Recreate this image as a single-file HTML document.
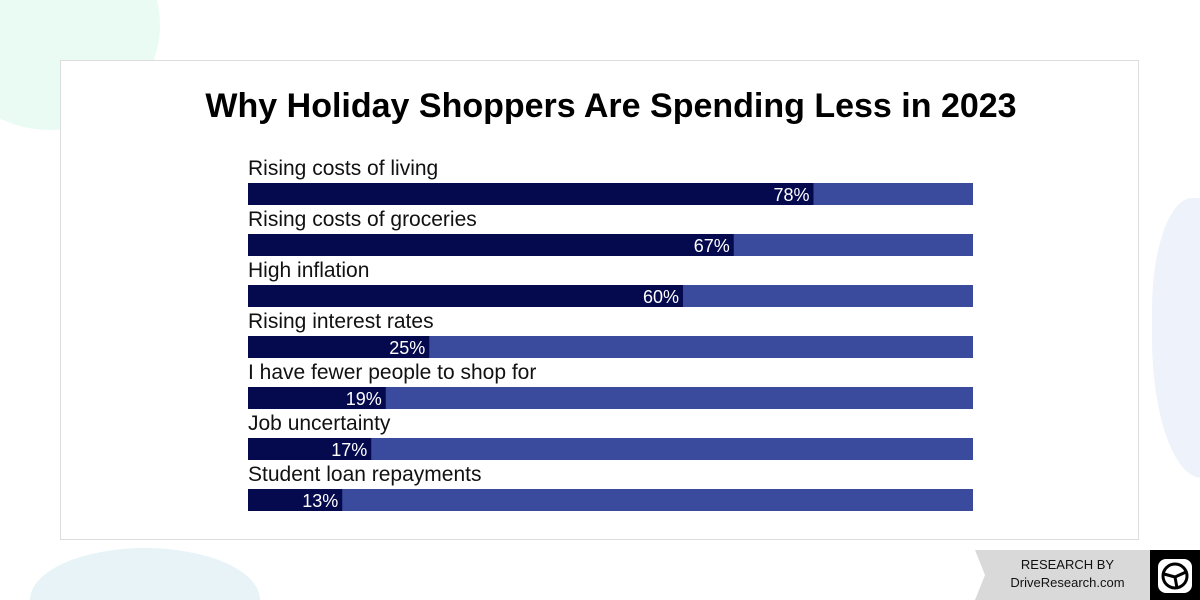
<!DOCTYPE html>
<html style="overflow:hidden;width:1200px;height:600px"><head><meta charset="utf-8"><style>
body{margin:0;width:1200px;height:600px;overflow:hidden;background:#fff;font-family:"Liberation Sans",sans-serif;position:relative}
.blob{position:absolute;border-radius:50%}
</style></head><body>
<div class="blob" style="left:-60px;top:-80px;width:220px;height:210px;background:#eafbf3"></div>
<div class="blob" style="left:1152px;top:198px;width:100px;height:280px;background:#edf2fb;border-radius:40% 20% 30% 50%"></div>
<div class="blob" style="left:30px;top:548px;width:230px;height:52px;background:#e8f3f7;border-radius:50% 50% 0 0/100% 100% 0 0"></div>
<div style="position:absolute;left:60px;top:60px;width:1077px;height:478px;border:1px solid #ddd;background:#fff"></div>
<div style="position:absolute;left:0;width:1222px;top:87px;text-align:center;font-size:34px;font-weight:bold;color:#000">Why Holiday Shoppers Are Spending Less in 2023</div>
<svg id="chart" width="1200" height="600" style="position:absolute;left:0;top:0"></svg>
<div style="position:absolute;left:975px;top:550px;width:175px;height:50px;background:#d9d9d9;clip-path:polygon(0 0,100% 0,100% 100%,0 100%,10px 50%)"></div>
<div style="position:absolute;left:985px;top:556px;width:165px;text-align:center;font-size:13px;line-height:18px;color:#111">RESEARCH BY<br>DriveResearch.com</div>
<div style="position:absolute;left:1150px;top:550px;width:50px;height:50px;background:#000">
<svg width="50" height="50"><rect x="8" y="9" width="34" height="34" rx="8" fill="#fff"/><circle cx="25" cy="26" r="12" fill="none" stroke="#000" stroke-width="3"/><path d="M14 24 L25 27 L36 22 M25 27 L27 38" stroke="#000" stroke-width="3" fill="none"/></svg></div>
<script>
const categories=["Rising costs of living","Rising costs of groceries","High inflation","Rising interest rates","I have fewer people to shop for","Job uncertainty","Student loan repayments"];
const values=[78,67,60,25,19,17,13];
const svg=document.getElementById('chart');const NS="http://www.w3.org/2000/svg";
const x0=248,w=725,y0=183,step=51,h=22;
const xs=v=>x0+v/100*w;
categories.forEach((c,i)=>{
 const y=y0+i*step;
 const t=document.createElementNS(NS,'text');t.setAttribute('x',x0);t.setAttribute('y',y-8);t.setAttribute('font-size','21');t.setAttribute('fill','#111');t.textContent=c;
 
 svg.appendChild(t);
 const bg=document.createElementNS(NS,'rect');bg.setAttribute('x',x0);bg.setAttribute('y',y);bg.setAttribute('width',w);bg.setAttribute('height',h);bg.setAttribute('fill','#3a4a9c');
 
 svg.appendChild(bg);
 const b=document.createElementNS(NS,'rect');b.setAttribute('x',x0);b.setAttribute('y',y);b.setAttribute('width',xs(values[i])-x0);b.setAttribute('height',h);b.setAttribute('fill','#050a4e');
 
 svg.appendChild(b);
 const l=document.createElementNS(NS,'text');l.setAttribute('x',xs(values[i])-4);l.setAttribute('y',y+18);l.setAttribute('text-anchor','end');l.setAttribute('font-size','18');l.setAttribute('fill','#fff');l.textContent=values[i]+'%';
 
 svg.appendChild(l);
});
</script>
</body></html>
